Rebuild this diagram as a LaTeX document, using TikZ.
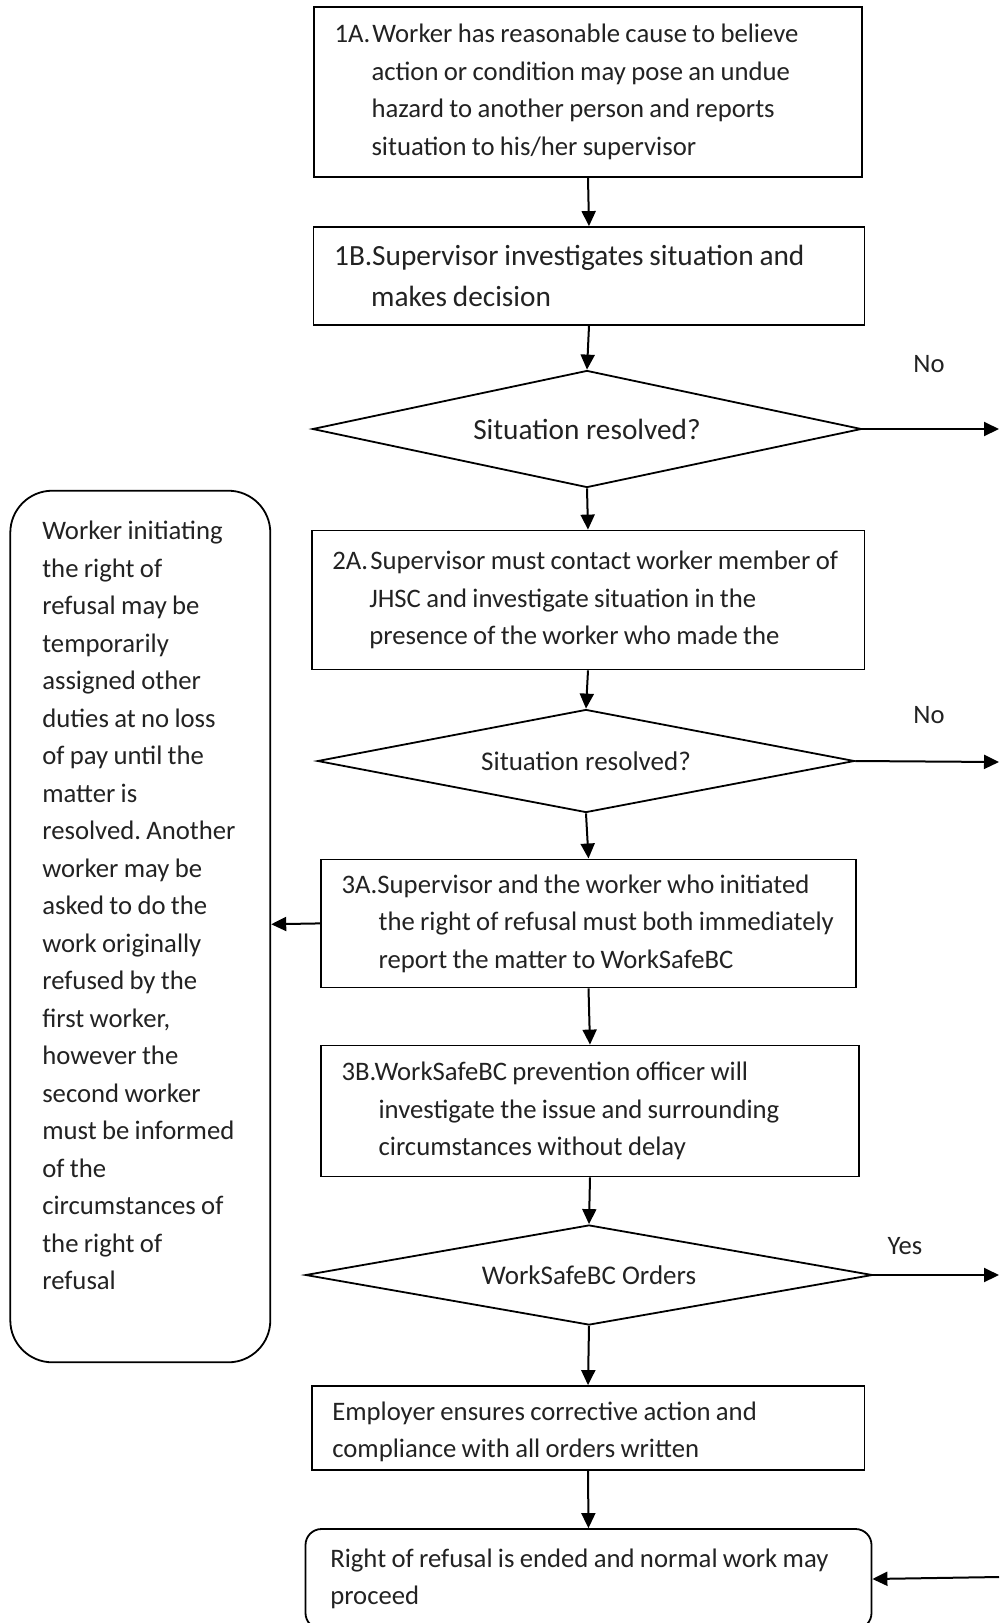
\documentclass[tikz,border=0pt]{standalone}
\usepackage{fontspec}
\setmainfont{Carlito}
\usetikzlibrary{arrows.meta,positioning,shapes.geometric}
\definecolor{inkgray}{RGB}{34,34,34}

\newcommand{\stepno}[1]{\makebox[38pt][l]{#1}}
\newcommand{\contline}{\hspace*{37pt}}
\newcommand{\flowfont}[2]{\fontsize{#1}{#2}\selectfont}
\newcommand{\tightwords}{\spaceskip=0.2em plus 0.1em minus 0.05em\relax}

\tikzset{
  stepbox/.style={draw,line width=1.8pt,rectangle,inner xsep=20.7pt,inner ysep=0pt,
    text=inkgray,font=\flowfont{26.7}{37.5},
    execute at begin node={\raggedright\frenchspacing\tightwords}},
  endbox/.style={stepbox,rounded corners=16pt,inner xsep=24.8pt},
  sidebox/.style={stepbox,rounded corners=42pt,inner xsep=32pt},
  askbox/.style={draw,line width=1.8pt,diamond,aspect=12,inner sep=0pt,text=inkgray},
  lbl/.style={text=inkgray,font=\flowfont{26.6}{30}},
  arr/.style={line width=2pt,-{Triangle[length=15pt,width=14pt]}}
}

\begin{document}
\begin{tikzpicture}[x=1pt,y=-1pt]
\useasboundingbox (0,0) rectangle (999,1623);

% main column
\node[stepbox,text width=507pt,minimum height=170pt] (s1a) at (588,92)
  {\stepno{1A.}Worker has reasonable cause to believe\\
   \contline action or condition may pose an undue\\
   \contline hazard to another person and reports\\
   \contline situation to his/her supervisor};
\node[stepbox,text width=509.6pt,minimum height=98pt,font=\flowfont{29.3}{41.4}] (s1b) at (589,276)
  {\stepno{1B.}Supervisor investigates situation and\\
   \contline makes decision};
\node[askbox,minimum width=549pt,minimum height=117pt,font=\flowfont{29.3}{32}] (d1) at (587,429)
  {Situation resolved?};
\node[stepbox,text width=511.4pt,minimum height=139pt] (s2a) at (588,600)
  {\stepno{2A.}Supervisor must contact worker member of\\
   \contline JHSC and investigate situation in the\\
   \contline presence of the worker who made the};
\node[askbox,minimum width=537pt,minimum height=103pt,font=\flowfont{27}{30}] (d2) at (586,761)
  {Situation resolved?};
\node[stepbox,text width=493.8pt,minimum height=128pt] (s3a) at (588.5,923.4)
  {\mbox{3A.Supervisor and the worker who initiated}\\
   \mbox{\contline the right of refusal must both immediately}\\
   \mbox{\contline report the matter to WorkSafeBC}};
\node[stepbox,text width=496.8pt,minimum height=131pt] (s3b) at (590,1111)
  {3B.WorkSafeBC prevention officer will\\
   \contline investigate the issue and surrounding\\
   \contline circumstances without delay};
\node[askbox,minimum width=567pt,minimum height=100pt,font=\flowfont{27}{30}] (d3) at (589,1275)
  {WorkSafeBC Orders};
\node[stepbox,text width=511.4pt,minimum height=84pt] (emp) at (588,1428)
  {\rule{0pt}{26pt}Employer ensures corrective action and\\
   compliance with all orders written};
\node[endbox,text width=516.4pt,minimum height=100pt] (done) at (588.5,1579)
  {Right of refusal is ended and normal work may\\
   proceed};

% side note
\node[sidebox,text width=196pt,minimum height=871.6pt] (side) at (140.3,926.5)
  {Worker initiating\\ the right of\\ refusal may be\\ temporarily\\ assigned other\\
   duties at no loss\\ of pay until the\\ matter is\\ resolved. Another\\ worker may be\\
   asked to do the\\ work originally\\ refused by the\\ first worker,\\ however the\\
   second worker\\ must be informed\\ of the\\ circumstances of\\ the right of\\ refusal\par
   \vspace*{42pt}};

% exits to the right
\coordinate (out1) at (999,429);
\coordinate (out2) at (999,762);
\coordinate (out3) at (999,1275);
\coordinate (back) at (999,1577);
\node[lbl] (no1) at (929,364) {No};
\node[lbl] (no2) at (929,715) {No};
\node[lbl] (yes3) at (905,1246) {Yes};

\draw[arr] (s1a.south) -- (s1b.north);
\draw[arr] (s1b.south) -- (d1.north);
\draw[arr] (d1.south) -- (s2a.north);
\draw[arr] (s2a.south) -- (d2.north);
\draw[arr] (d2.south) -- (s3a.north);
\draw[arr] (s3a.south) -- (s3b.north);
\draw[arr] (s3b.south) -- (d3.north);
\draw[arr] (d3.south) -- (emp.north);
\draw[arr] (emp.south) -- (done.north);
\draw[arr] (s3a.west) -- (side);
\draw[arr] (d1.east) -- (out1);
\draw[arr] (d2.east) -- (out2);
\draw[arr] (d3.east) -- (out3);
\draw[arr] (back) -- (done.east);
\end{tikzpicture}
\end{document}
